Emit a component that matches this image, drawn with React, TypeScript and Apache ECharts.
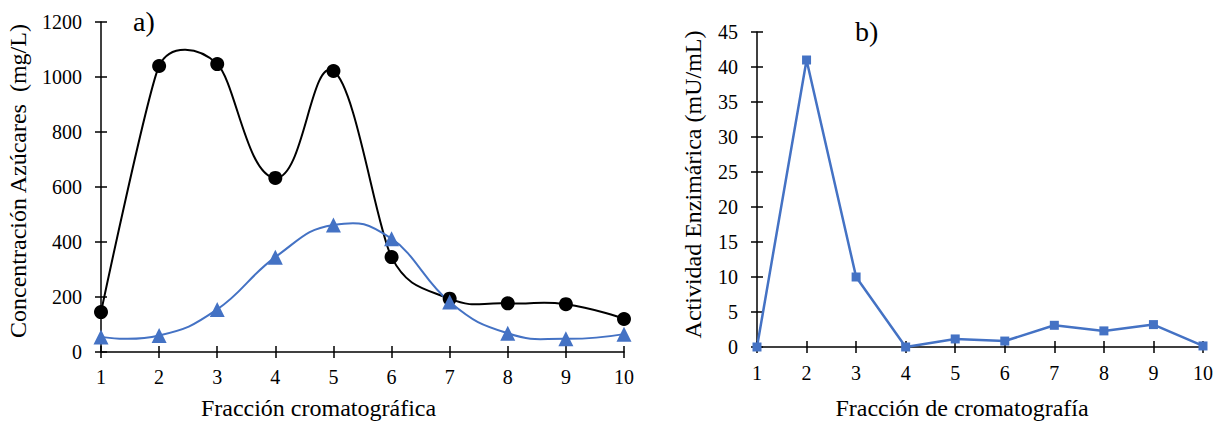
import React, { useEffect, useRef } from "react";
import * as echarts from "echarts";

const fractions = [1, 2, 3, 4, 5, 6, 7, 8, 9, 10];
const sugarsBlack = [145, 1040, 1047, 633, 1022, 345, 194, 177, 174, 120];
const sugarsBlue = [55, 60, 155, 345, 462, 412, 182, 68, 48, 65];
const enzymeActivity = [0, 41, 10, 0, 1.15, 0.85, 3.1, 2.3, 3.2, 0.15];

const FONT = "Liberation Serif";
const BLUE = "#4472C4";

function pairs(xs: number[], ys: number[]) {
  return xs.map((x, i) => [x, ys[i]]);
}

// Excel-like smoothed segment between consecutive points (tangent scaled by neighbouring chord lengths)
function smoothRender(ys: number[], color: string) {
  return (params: any, api: any) => {
    const n = fractions.length;
    const i = params.dataIndex;
    if (i >= n - 1) return { type: "group", children: [] };
    const pt = (k: number) => {
      const kk = Math.max(0, Math.min(n - 1, k));
      return api.coord([fractions[kk], ys[kk]]);
    };
    const d = (a: number[], b: number[]) => Math.hypot(b[0] - a[0], b[1] - a[1]);
    const tangent = (k: number) => {
      const prev = pt(k - 1);
      const cur = pt(k);
      const next = pt(k + 1);
      const da = d(prev, cur);
      const db = d(cur, next);
      if (da + db === 0) return [0, 0];
      const r = (0.5 * Math.min(da, db)) / (da + db);
      return [(next[0] - prev[0]) * r, (next[1] - prev[1]) * r];
    };
    const p1 = pt(i);
    const p2 = pt(i + 1);
    const t1 = tangent(i);
    const t2 = tangent(i + 1);
    return {
      type: "bezierCurve",
      shape: {
        x1: p1[0], y1: p1[1],
        cpx1: p1[0] + t1[0], cpy1: p1[1] + t1[1],
        cpx2: p2[0] - t2[0], cpy2: p2[1] - t2[1],
        x2: p2[0], y2: p2[1],
      },
      style: { stroke: color, lineWidth: 2, fill: null, lineCap: "round" },
    };
  };
}

export default function App() {
  const ref = useRef<HTMLDivElement>(null);
  useEffect(() => {
    if (!ref.current) return;
    const chart = echarts.init(ref.current, null, { renderer: "svg" });
    const lineStyle = { color: "#000", width: 1.5 };
    const fmt = (v: number) => String(v);
    const nameStyle = (padding: number[]) => ({ color: "#000", fontFamily: FONT, fontSize: 24, padding });
    const mainX = (grid: number, name: string, nameGap: number, margin: number, fs: number, padding: number[]) => ({
      type: "value",
      gridIndex: grid,
      min: 1,
      max: 10,
      interval: 1,
      name,
      nameLocation: "middle",
      nameGap,
      nameTextStyle: nameStyle(padding),
      axisLine: { show: true, lineStyle },
      axisTick: { show: true, inside: false, length: 6, lineStyle },
      axisLabel: { color: "#000", fontFamily: FONT, fontSize: fs, margin, formatter: fmt },
      splitLine: { show: false },
    });
    const innerX = (grid: number) => ({
      type: "value",
      gridIndex: grid,
      min: 1,
      max: 10,
      interval: 1,
      position: "bottom",
      axisLine: { show: false },
      axisTick: { show: true, inside: true, length: 6, lineStyle },
      axisLabel: { show: false },
      splitLine: { show: false },
    });
    const mainY = (grid: number, max: number, interval: number, name: string, nameGap: number, margin: number, fs: number, padding: number[]) => ({
      type: "value",
      gridIndex: grid,
      min: 0,
      max,
      interval,
      name,
      nameLocation: "middle",
      nameGap,
      nameTextStyle: nameStyle(padding),
      axisLine: { show: true, lineStyle },
      axisTick: { show: true, inside: false, length: 6, lineStyle },
      axisLabel: { color: "#000", fontFamily: FONT, fontSize: fs, margin, formatter: fmt },
      splitLine: { show: false },
    });
    const innerY = (grid: number, max: number, interval: number) => ({
      type: "value",
      gridIndex: grid,
      min: 0,
      max,
      interval,
      position: "left",
      axisLine: { show: false },
      axisTick: { show: true, inside: true, length: 6, lineStyle },
      axisLabel: { show: false },
      splitLine: { show: false },
    });

    chart.setOption({
      animation: false,
      backgroundColor: "#fff",
      textStyle: { fontFamily: FONT },
      title: [
        { text: "a)", left: 128, top: 2, textStyle: { fontFamily: FONT, fontSize: 28, fontWeight: "normal", color: "#000" } },
        { text: "b)", left: 850, top: 12, textStyle: { fontFamily: FONT, fontSize: 28, fontWeight: "normal", color: "#000" } },
      ],
      grid: [
        { left: 101, top: 22, width: 523, height: 330 },
        { left: 757, top: 32, width: 446, height: 318 },
      ],
      xAxis: [
        mainX(0, "Fracción cromatográfica", 44, 15, 20, [0, 88, 0, 0]),
        innerX(0),
        mainX(1, "Fracción de cromatografía", 49, 16, 20, [0, 36, 0, 0]),
        innerX(1),
      ],
      yAxis: [
        mainY(0, 1200, 200, "Concentración Azúcares  (mg/L)", 71, 19, 20, [0, 0, 0, 12]),
        innerY(0, 1200, 200),
        mainY(1, 45, 5, "Actividad Enzimárica (mU/mL)", 52, 19, 20, [0, 0, 0, 10]),
        innerY(1, 45, 5),
      ],
      series: [
        {
          type: "custom",
          xAxisIndex: 0,
          yAxisIndex: 0,
          data: pairs(fractions, sugarsBlack),
          renderItem: smoothRender(sugarsBlack, "#000"),
          z: 2,
        },
        {
          type: "custom",
          xAxisIndex: 0,
          yAxisIndex: 0,
          data: pairs(fractions, sugarsBlue),
          renderItem: smoothRender(sugarsBlue, BLUE),
          z: 2,
        },
        {
          type: "scatter",
          xAxisIndex: 0,
          yAxisIndex: 0,
          data: pairs(fractions, sugarsBlack),
          symbol: "circle",
          symbolSize: 14,
          itemStyle: { color: "#000", opacity: 1 },
          z: 3,
        },
        {
          type: "scatter",
          xAxisIndex: 0,
          yAxisIndex: 0,
          data: pairs(fractions, sugarsBlue),
          symbol: "triangle",
          symbolSize: 15,
          itemStyle: { color: BLUE, opacity: 1 },
          z: 3,
        },
        {
          type: "line",
          xAxisIndex: 2,
          yAxisIndex: 2,
          data: pairs(fractions, enzymeActivity),
          symbol: "rect",
          symbolSize: 9,
          itemStyle: { color: BLUE },
          lineStyle: { color: BLUE, width: 2.5 },
        },
      ],
    });
    return () => chart.dispose();
  }, []);
  return <div ref={ref} style={{ position: "fixed", left: 0, top: 0, width: 1220, height: 425 }} />;
}
